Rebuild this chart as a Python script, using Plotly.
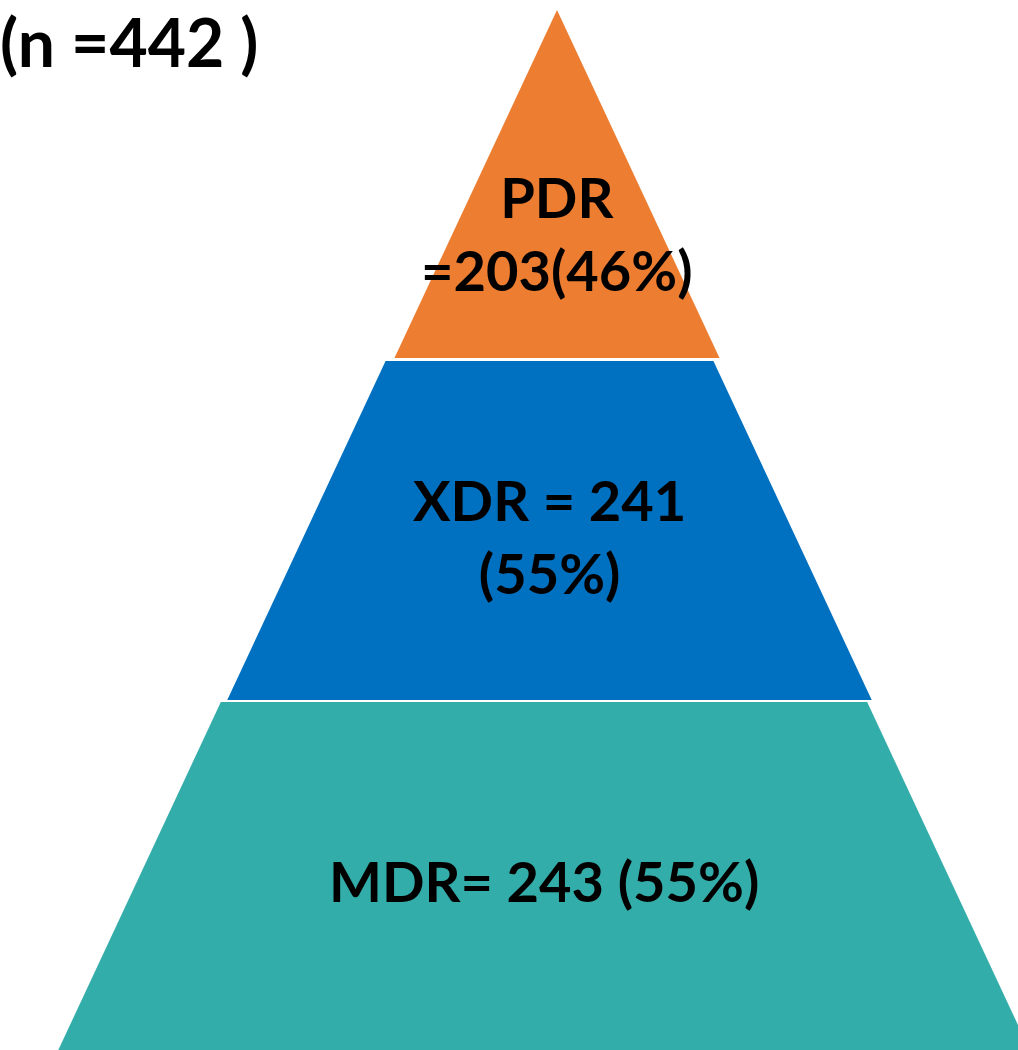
import plotly.graph_objects as go

# ---- data ----
total_n = 442
categories = ["PDR", "XDR", "MDR"]          # top to bottom
counts = [203, 241, 243]
percents = [46, 55, 55]
colors = ["#ED7D31", "#0070C0", "#33ADAA"]

# label templates per level (how the original broke lines)
label_templates = [
    "{c}<br>={n}({p}%)",
    "{c} = {n}<br>({p}%)",
    "{c}= {n} ({p}%)",
]

# ---- pyramid geometry (layout/styling) ----
W, H = 1018, 1050
apex_y = 10
slope = 0.467                 # half-width per pixel of depth
level_bounds = [(10, 358), (361, 700), (702, 1050)]
level_centers = [557, 549.5, 544]
label_y = [233, 536, 880]

fig = go.Figure()
for i, cat in enumerate(categories):
    yt, yb = level_bounds[i]
    cx = level_centers[i]
    ht = slope * (yt - apex_y)
    hb = slope * (yb - apex_y)
    xs = [cx - ht, cx + ht, cx + hb, cx - hb, cx - ht]
    ys = [yt, yt, yb, yb, yt]
    fig.add_trace(go.Scatter(x=xs, y=ys, mode="lines", fill="toself",
                             fillcolor=colors[i], line=dict(width=0, color=colors[i]),
                             hoverinfo="skip", showlegend=False))
    fig.add_annotation(x=cx, y=label_y[i], xref="x", yref="y",
                       text=label_templates[i].format(c=cat, n=counts[i], p=percents[i]),
                       showarrow=False, align="center",
                       font=dict(family="Lato", size=56, color="black", weight="bold"))

fig.add_annotation(x=0, y=1, xref="paper", yref="paper", xanchor="left", yanchor="top",
                   xshift=-2, yshift=0,
                   text=f"(n ={total_n} )", showarrow=False,
                   font=dict(family="Lato", size=66, color="black", weight="bold"))

fig.update_layout(width=W, height=H, margin=dict(l=0, r=0, t=0, b=0),
                  paper_bgcolor="white", plot_bgcolor="white")
fig.update_xaxes(range=[0, W], visible=False, fixedrange=True)
fig.update_yaxes(range=[H, 0], visible=False, fixedrange=True)
fig.write_html("out.html")
